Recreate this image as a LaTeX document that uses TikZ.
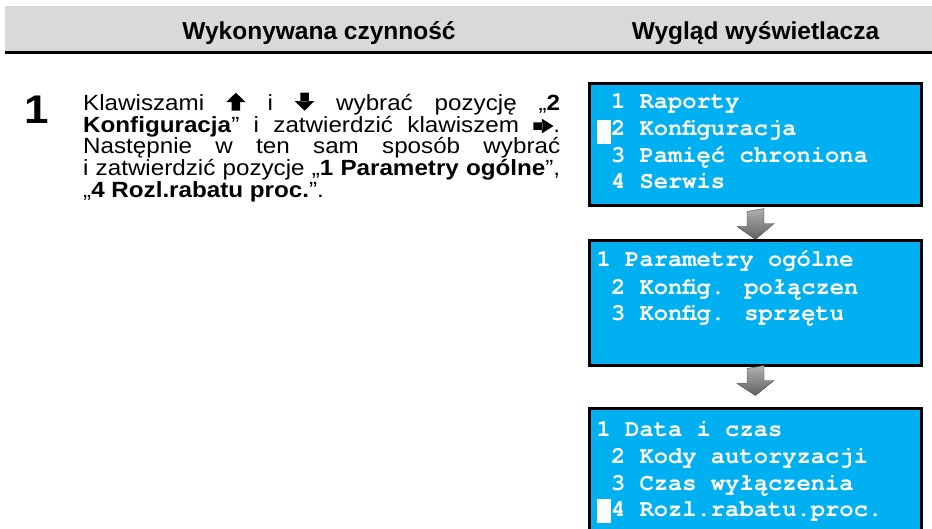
\documentclass[tikz,border=0pt]{standalone}
\usepackage{fontspec}
\usepackage{tikz}
\setmainfont{Liberation Sans}
\newfontfamily\bodyfont{Liberation Sans}[FakeStretch=1.1]
\newfontfamily\lcdfont{TeX Gyre Cursor}
\definecolor{lcdblue}{RGB}{0,176,240}
\definecolor{hdrgray}{RGB}{217,217,217}
% key symbols in the text
\newcommand{\keyup}{\tikz[baseline=0pt]\fill (5.5pt,0pt) rectangle (14pt,9pt) (0pt,8.5pt) -- (9.75pt,18pt) -- (19.5pt,8.5pt) -- cycle;}
\newcommand{\keydown}{\tikz[baseline=0pt]\fill (5.5pt,9pt) rectangle (14pt,18pt) (0pt,9.5pt) -- (9.75pt,0pt) -- (19.5pt,9.5pt) -- cycle;}
\newcommand{\keyright}{\tikz[baseline=1pt]\fill (0pt,3.5pt) rectangle (9pt,11pt) (8.5pt,0pt) -- (20pt,7.25pt) -- (8.5pt,14.5pt) -- cycle;}

\begin{document}
\begin{tikzpicture}[x=1pt, y=-1pt,
    lcd/.style={draw, line width=3pt, fill=lcdblue, minimum width=332pt, inner sep=0pt},
    lcdline/.style={anchor=base west, inner sep=0pt, text=white, font=\lcdfont\bfseries\fontsize{23.8}{24}\selectfont},
    cursor/.style={fill=white, minimum width=14.5pt, minimum height=24pt, inner sep=0pt, anchor=north west},
    grayarrow/.style={draw=black!75, thin, top color=black!30, bottom color=black!62},
    hdtext/.style={anchor=base, inner sep=0pt, font=\bfseries\fontsize{24.5}{26}\selectfont}
]
  \useasboundingbox (0,0) rectangle (932,529);

  % header
  \fill[hdrgray] (5,6) rectangle (932,51);
  \draw[line width=3pt] (5,52.5) -- (932,52.5);
  \node[hdtext] (hdact) at (319,39.3) {Wykonywana czynność};
  \node[hdtext] (hddisp) at (755.5,39.3) {Wygląd wyświetlacza};

  % step text
  \node[anchor=base, inner sep=0pt, font=\bodyfont\bfseries\fontsize{40}{41}\selectfont] (step1) at (37,123.3) {1};
  \node[anchor=base west, inner sep=0pt, text width=477pt, align=justify,
        font=\bodyfont\fontsize{22}{21.6}\selectfont] (txt) at (83,110.7)
    {Klawiszami \keyup{} i \keydown{} wybrać pozycję „\textbf{2}\linebreak
     \textbf{Konfiguracja}” i zatwierdzić klawiszem \keyright.\linebreak
     Następnie w ten sam sposób wybrać\linebreak
     i zatwierdzić pozycje „\textbf{1 Parametry ogólne}”,\linebreak
     „\textbf{4 Rozl.rabatu proc.}”.};

  % displays
  \node[lcd, minimum height=122pt] (lcdA) at (755.5,144.5) {};
  \node[lcd, minimum height=124.7pt] (lcdB) at (755.5,303.2) {};
  \node[lcd, minimum height=152pt] (lcdC) at (755.5,484) {};

  \node[lcdline] (a1) at (610.8,109) {1 Raporty};
  \node[cursor] (curA) at (596.3,119.5) {};
  \node[lcdline] (a2) at (610.8,135.7) {2 Konfiguracja};
  \node[lcdline] (a3) at (610.8,162.3) {3 Pamięć chroniona};
  \node[lcdline] (a4) at (610.8,189) {4 Serwis};

  \node[lcdline] (b1) at (596.5,266.7) {1 Parametry ogólne};
  \node[lcdline] (b2) at (610.8,294.3) {2 Konfig. połączen};
  \node[lcdline] (b3) at (610.8,321) {3 Konfig. sprzętu};

  \node[lcdline] (c1) at (596.5,436) {1 Data i czas};
  \node[lcdline] (c2) at (610.8,463) {2 Kody autoryzacji};
  \node[lcdline] (c3) at (610.8,490) {3 Czas wyłączenia};
  \node[cursor] (curC) at (596.3,499) {};
  \node[lcdline] (c4) at (610.8,516.7) {4 Rozl.rabatu.proc.};

  % arrows between displays
  \coordinate (tipA) at (lcdB.north);
  \coordinate (tipB) at ([yshift=11pt]lcdC.north);
  \draw[grayarrow] (lcdA.south) ++(-8.5,4.5) -- ++(0,15) -- ++(-10,0) -- (tipA)
    -- ++(18.5,-15.8) -- ++(-10,0) -- ++(0,-15) -- cycle;
  \draw[grayarrow] (lcdB.south) ++(-8.5,1.5) -- ++(0,15) -- ++(-10,0) -- (tipB)
    -- ++(18.5,-15) -- ++(-10,0) -- ++(0,-15) -- cycle;
\end{tikzpicture}
\end{document}
